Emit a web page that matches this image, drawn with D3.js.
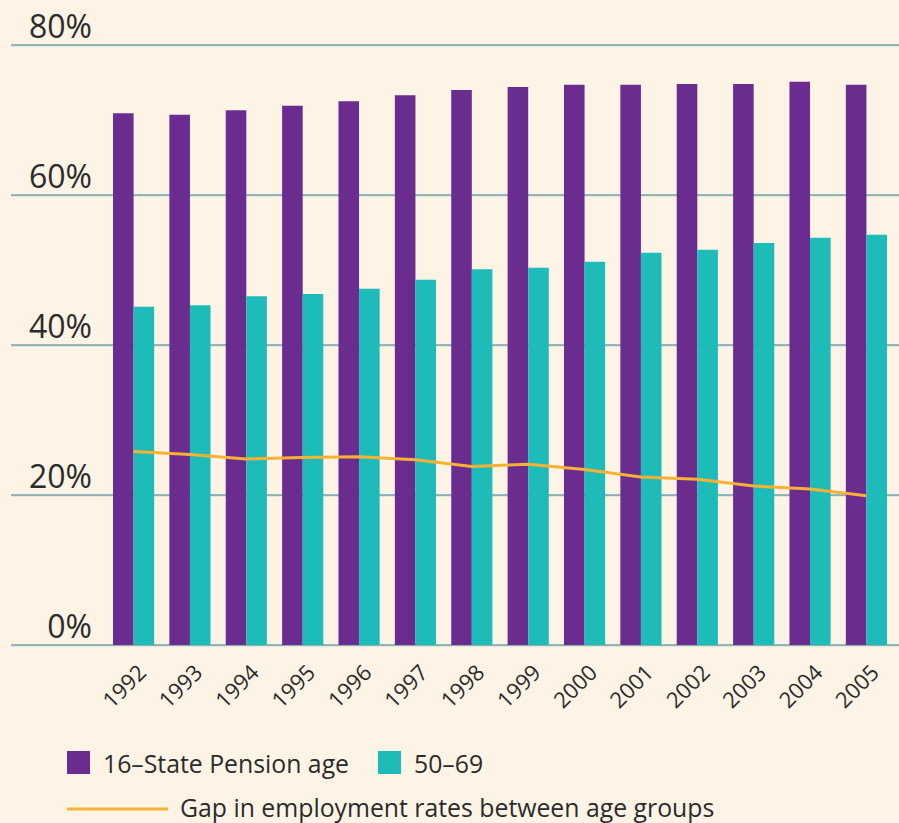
<!DOCTYPE html>
<html>
<head>
<meta charset="utf-8">
<script src="https://cdn.jsdelivr.net/npm/d3@7/dist/d3.min.js"></script>
<style>
  html, body { margin: 0; padding: 0; background: #fdf4e6; }
  svg { display: block; }
  text { font-family: "Open Sans", "Noto Sans", sans-serif; fill: #2b2b2b; }
</style>
</head>
<body>
<div id="chart"></div>
<script>
const years = ["1992","1993","1994","1995","1996","1997","1998","1999","2000","2001","2002","2003","2004","2005"];
const pensionAge = [70.9, 70.7, 71.3, 71.9, 72.5, 73.3, 74.0, 74.4, 74.7, 74.7, 74.8, 74.8, 75.1, 74.7];
const age50to69 = [45.1, 45.3, 46.5, 46.8, 47.5, 48.7, 50.1, 50.3, 51.1, 52.3, 52.7, 53.6, 54.3, 54.7];
const gap = [25.8, 25.4, 24.8, 25.0, 25.1, 24.7, 23.8, 24.1, 23.4, 22.4, 22.1, 21.2, 20.8, 19.9];
const yTicks = [0, 20, 40, 60, 80];
const seriesNames = ["16\u2013State Pension age", "50\u201369"];
const lineName = "Gap in employment rates between age groups";
const colors = { purple: "#6a2c8f", teal: "#1ebcb9", orange: "#f9b233", grid: "#327f8c" };

const W = 899, H = 823;
const svg = d3.select("#chart").append("svg").attr("width", W).attr("height", H);
svg.append("rect").attr("width", W).attr("height", H).attr("fill", "#fdf4e6");

const y = d3.scaleLinear().domain([0, 80]).range([645, 45]);
const x = d3.scaleBand().domain(years).range([113, 887]).paddingInner(0.27).paddingOuter(0);
const xs = d3.scaleBand().domain(["a", "b"]).range([0, x.bandwidth()]);

// gridlines
const grid = svg.append("g");
grid.selectAll("line.g").data(yTicks).join("line")
  .attr("x1", 11).attr("x2", W)
  .attr("y1", d => y(d) + 1).attr("y2", d => y(d) + 1)
  .attr("stroke", "#cfd9d0").attr("stroke-width", 1);
grid.selectAll("line.m").data(yTicks).join("line")
  .attr("x1", 11).attr("x2", W)
  .attr("y1", d => y(d)).attr("y2", d => y(d))
  .attr("stroke", colors.grid).attr("stroke-width", 1.2);
grid.selectAll("text").data(yTicks).join("text")
  .attr("x", 92).attr("y", d => y(d) - 7)
  .attr("text-anchor", "end")
  .style("font-size", "32px")
  .text(d => d + "%");

// bars
const groups = svg.append("g").selectAll("g").data(years).join("g")
  .attr("transform", d => `translate(${x(d)},0)`);
groups.append("rect")
  .attr("x", xs("a")).attr("width", xs.bandwidth())
  .attr("y", (d, i) => y(pensionAge[i])).attr("height", (d, i) => y(0) - y(pensionAge[i]))
  .attr("fill", colors.purple);
groups.append("rect")
  .attr("x", xs("b")).attr("width", xs.bandwidth())
  .attr("y", (d, i) => y(age50to69[i])).attr("height", (d, i) => y(0) - y(age50to69[i]))
  .attr("fill", colors.teal);

// line
const line = d3.line()
  .x((d, i) => x(years[i]) + x.bandwidth() / 2)
  .y(d => y(d));
svg.append("path").datum(gap)
  .attr("d", line)
  .attr("fill", "none")
  .attr("stroke", colors.orange)
  .attr("stroke-width", 3);

// x labels
svg.append("g").selectAll("text").data(years).join("text")
  .attr("transform", d => `translate(${x(d) + x.bandwidth() / 2 + 14},${674}) rotate(-45)`)
  .attr("text-anchor", "end")
  .style("font-size", "22px")
  .text(d => d);

// legend
const leg = svg.append("g");
leg.append("rect").attr("x", 67).attr("y", 751).attr("width", 23).attr("height", 23).attr("fill", colors.purple);
leg.append("text").attr("x", 103).attr("y", 773).style("font-size", "24.8px").text(seriesNames[0]);
leg.append("rect").attr("x", 378).attr("y", 751).attr("width", 23).attr("height", 23).attr("fill", colors.teal);
leg.append("text").attr("x", 414).attr("y", 773).style("font-size", "24.8px").text(seriesNames[1]);
leg.append("line").attr("x1", 67).attr("x2", 168).attr("y1", 809).attr("y2", 809)
  .attr("stroke", colors.orange).attr("stroke-width", 3);
leg.append("text").attr("x", 180).attr("y", 817).style("font-size", "24.8px").text(lineName);
</script>
</body>
</html>
